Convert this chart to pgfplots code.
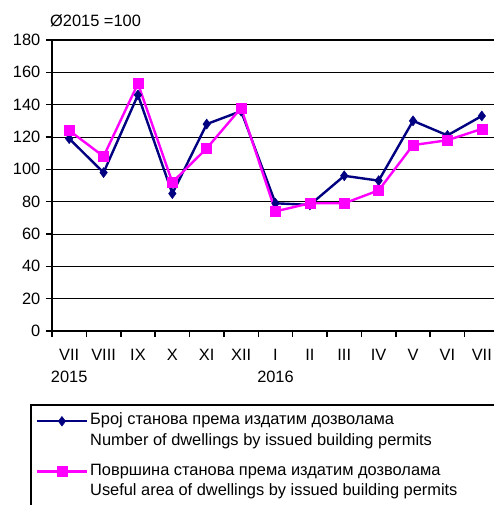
\documentclass[border=0pt]{standalone}
\usepackage{fontspec}
\setmainfont{Liberation Sans}
\usepackage{pgfplots}
\pgfplotsset{compat=1.18}
\definecolor{navyblue}{RGB}{0,0,128}
\definecolor{pinkmag}{RGB}{255,0,255}
\newcommand{\lbl}{\fontsize{16.4}{19.5}\selectfont}
\newcommand{\rs}[2]{\rule[-#2pt]{0pt}{\dimexpr#1pt+#2pt\relax}}

\begin{document}
\lbl
\begin{tikzpicture}
\begin{axis}[
    scale only axis,
    width=447pt, height=291pt,
    xmin=-0.5, xmax=12.5,
    ymin=0, ymax=180,
    ytick={0,20,...,180},
    xtick={0,...,12},
    xticklabels={{VII\\[2pt]2015},VIII,IX,X,XI,XII,{I\\[2pt]2016},II,III,IV,V,VI,VII},
    minor xtick={-0.5,0.5,...,12.5},
    major x tick style={draw=none},
    tick align=outside,
    xtick pos=bottom, ytick pos=left,
    major tick length=6pt, minor tick length=6pt,
    tick style={black, line width=1.5pt},
    axis line style={line width=2.5pt},
    ymajorgrids,
    grid style={black, line width=0.8pt},
    tick label style={font=\lbl},
    xticklabel style={align=center, anchor=north, yshift=-7pt},
    /pgf/number format/assume math mode=true,
    title={Ø2015 =100},
    title style={at={(0,1)}, anchor=base west, yshift=7pt, xshift=-2pt, inner sep=0pt, font=\lbl},
    legend cell align=left,
    legend style={at={(axis description cs:-0.0492,-0.2509)}, anchor=north west,
        draw=black, line width=1.5pt, font=\lbl, row sep=0pt,
        inner xsep=5pt, inner ysep=6pt,
        nodes={inner sep=2pt, text depth=}},
    legend image code/.code={\draw[mark repeat=2, mark phase=2, mark size=4.8pt]
        plot coordinates {(0pt,0pt) (25pt,0pt) (50pt,0pt)};},
]
\addplot[navyblue, line width=2.4pt, mark=diamond*, mark size=5pt,
    mark options={solid, line width=0.5pt}] coordinates {
    (0,119) (1,98) (2,146) (3,85) (4,128) (5,136) (6,79)
    (7,78) (8,96) (9,93) (10,130) (11,121) (12,133)};
\addlegendentry{\makebox[430pt][l]{Број станова према издатим дозволама\rs{12}{5}}}
\addlegendimage{empty legend}
\addlegendentry{\makebox[430pt][l]{Number of dwellings by issued building permits\rs{12}{14}}}
\addplot[pinkmag, line width=2.4pt, mark=square*, mark size=5pt,
    mark options={solid, line width=0.5pt}] coordinates {
    (0,124) (1,108) (2,153) (3,92) (4,113) (5,138) (6,74)
    (7,79) (8,79) (9,87) (10,115) (11,118) (12,125)};
\addlegendentry{\makebox[430pt][l]{Површина станова према издатим дозволама\rs{12}{3}}}
\addlegendimage{empty legend}
\addlegendentry{\makebox[430pt][l]{Useful area of dwellings by issued building permits\rs{12}{20}}}
\end{axis}
\pgfresetboundingbox
\path[use as bounding box] ([shift={(-52pt,-174pt)}]current axis.south west)
    rectangle ([shift={(-5pt,40pt)}]current axis.north east);
\end{tikzpicture}
\end{document}
